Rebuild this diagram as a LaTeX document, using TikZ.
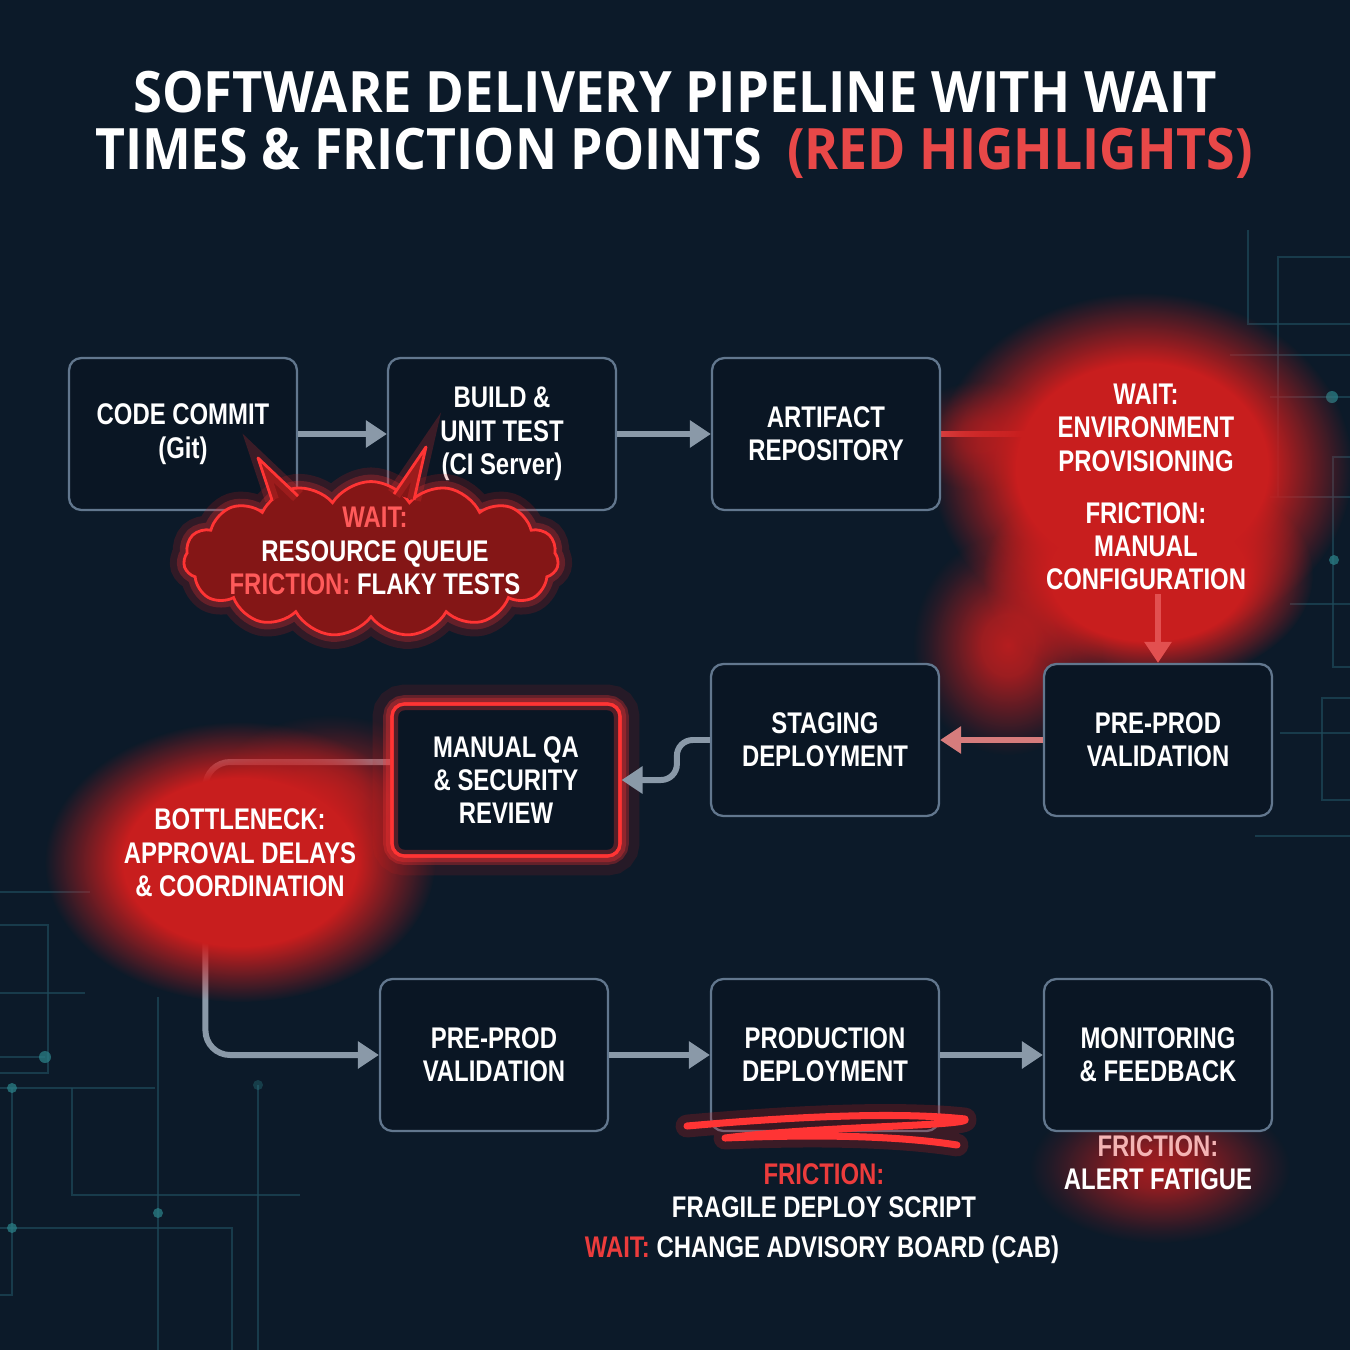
\documentclass[tikz,border=0pt]{standalone}
\usepackage{fontspec}
\setmainfont{Liberation Sans}[FakeStretch=0.8]
\newfontfamily\titlefont{Open Sans}[FakeStretch=0.92]
\usetikzlibrary{positioning,arrows.meta,shapes.symbols,fadings}

\definecolor{bgnavy}{HTML}{0C1A29}
\definecolor{boxfill}{HTML}{0A1624}
\definecolor{boxline}{HTML}{62778E}
\definecolor{flowgray}{HTML}{8A99A8}
\definecolor{hotred}{HTML}{FF3434}
\definecolor{glowred}{HTML}{C81E1E}
\definecolor{labelred}{HTML}{EC3C3C}
\definecolor{titlered}{HTML}{E84848}
\definecolor{cloudred}{HTML}{841616}
\definecolor{cloudtext}{HTML}{FF5A5A}
\definecolor{arrowred}{HTML}{E25050}
\definecolor{pinkarrow}{HTML}{D67C7C}
\definecolor{paletext}{HTML}{F4B4B4}
\definecolor{circuit}{HTML}{1E4A5A}
\definecolor{circuitdot}{HTML}{2A7F86}

% path bbox maps onto the inner 25bp radius
\pgfdeclareradialshading{flatshade}{\pgfpointorigin}{color(0bp)=(white); color(15bp)=(white); color(25bp)=(black); color(50bp)=(black)}
\pgfdeclareradialshading{softshade}{\pgfpointorigin}{color(0bp)=(white); color(7bp)=(white!85!black); color(15bp)=(white!45!black); color(21bp)=(white!15!black); color(25bp)=(black); color(50bp)=(black)}
\pgfdeclarefading{flatglow}{\pgfuseshading{flatshade}}
\pgfdeclarefading{softglow}{\pgfuseshading{softshade}}

\pgfdeclarelayer{back}
\pgfdeclarelayer{under}
\pgfdeclarelayer{haze}
\pgfsetlayers{back,under,haze,main}

\newcommand{\stagefont}{\fontsize{17}{19}\selectfont\bfseries}
\newcommand{\headfont}{\titlefont\fontsize{32.5}{36}\selectfont\bfseries}

\tikzset{
  stage/.style={draw=boxline, line width=1.3pt, rounded corners=7pt, fill=boxfill,
    minimum width=4.56cm, minimum height=3.04cm, align=center, text=white, font=\stagefont},
  hotstage/.style={stage, draw=hotred, line width=1.8pt,
    preaction={draw=glowred, line width=22pt, draw opacity=.14},
    preaction={draw=hotred, line width=10pt, draw opacity=.28},
    postaction={draw=hotred, line width=7pt, draw opacity=.3},
    postaction={draw=hotred, line width=1.8pt}},
  note/.style={align=center, text=white, font=\stagefont, inner sep=2pt},
  headline/.style={text=white, font=\headfont, inner sep=0pt},
  flow/.style={draw=flowgray, line width=3.4pt, -{Triangle[length=12pt,width=15pt]}},
  softflow/.style={flow, draw=pinkarrow},
  redflow/.style={flow, draw=arrowred},
  emberline/.style={draw=arrowred, line width=3.4pt},
  bubble/.style={cloud, cloud puffs=15, cloud puff arc=115, draw=hotred, line width=1.6pt,
    fill=cloudred, minimum width=7.5cm, minimum height=3.1cm, inner sep=0pt,
    preaction={draw=glowred, line width=16pt, draw opacity=.2},
    preaction={draw=hotred, line width=8pt, draw opacity=.25}},
  spike/.style={draw=hotred, line width=1.6pt, line join=round,
    preaction={draw=hotred, line width=8pt, draw opacity=.2}},
  scribble/.style={draw=hotred, line width=4pt, line cap=round, line join=round,
    preaction={draw=glowred, line width=13pt, draw opacity=.25, line cap=round, line join=round}},
  trace/.style={draw=circuit, line width=1pt, draw opacity=.7},
  tracedot/.style={fill=circuitdot, fill opacity=.75},
}

\begin{document}
\begin{tikzpicture}[x=0.02cm, y=-0.02cm]
\useasboundingbox (0,0) rectangle (1350,1350);

\begin{pgfonlayer}{back}
  \fill[bgnavy] (0,0) rectangle (1350,1350);
  % circuit traces, right edge
  \draw[trace] (1248,230) -- (1248,324) -- (1350,324);
  \draw[trace] (1278,497) -- (1278,257) -- (1350,257);
  \draw[trace] (1230,355) -- (1350,355);
  \draw[trace] (1270,397) -- (1350,397);
  \draw[trace] (1350,457) -- (1333,457) -- (1333,667) -- (1350,667);
  \draw[trace] (1270,497) -- (1350,497);
  \draw[trace] (1290,604) -- (1350,604);
  \draw[trace] (1350,698) -- (1322,698) -- (1322,800) -- (1350,800);
  \draw[trace] (1280,733) -- (1350,733);
  \draw[trace] (1255,836) -- (1350,836);
  \fill[tracedot] (1332,397) circle[radius=6];
  \fill[tracedot] (1334,560) circle[radius=5];
  % circuit traces, lower left
  \draw[trace] (0,892) -- (90,892);
  \draw[trace] (0,925) -- (48,925) -- (48,1073) -- (0,1073);
  \draw[trace] (0,993) -- (85,993);
  \draw[trace] (0,1057) -- (45,1057);
  \draw[trace] (0,1088) -- (155,1088);
  \draw[trace] (72,1088) -- (72,1195) -- (300,1195);
  \draw[trace] (12,1088) -- (12,1295) -- (0,1295);
  \draw[trace] (158,997) -- (158,1350);
  \draw[trace] (0,1228) -- (232,1228) -- (232,1350);
  \draw[trace] (258,1085) -- (258,1350);
  \fill[tracedot] (45,1057) circle[radius=6];
  \fill[tracedot] (12,1088) circle[radius=5];
  \fill[tracedot] (158,1213) circle[radius=5];
  \fill[tracedot] (12,1228) circle[radius=5];
  \fill[tracedot, fill opacity=.35] (258,1085) circle[radius=5];
\end{pgfonlayer}

% title
\node[headline] (titleA) at (675,92) {SOFTWARE DELIVERY PIPELINE WITH WAIT};
\node[headline, xscale=0.985] (titleB) at (674,153) {TIMES \& FRICTION POINTS\hspace{0.45em}\textcolor{titlered}{(RED HIGHLIGHTS)}};

% pipeline stages
\node[stage] (commit) at (183,434) {CODE COMMIT\\(Git)};
\node[stage] (build) at (502,434) {BUILD \&\\UNIT TEST\\(CI Server)};
\node[stage] (artifact) at (826,434) {ARTIFACT\\REPOSITORY};
\node[stage] (preprodA) at (1158,740) {PRE-PROD\\VALIDATION};
\node[stage] (staging) at (825,740) {STAGING\\DEPLOYMENT};
\node[hotstage] (review) at (506,780) {MANUAL QA\\\& SECURITY\\REVIEW};
\node[stage] (preprodB) at (494,1055) {PRE-PROD\\VALIDATION};
\node[stage] (prod) at (825,1055) {PRODUCTION\\DEPLOYMENT};
\node[stage] (monitor) at (1158,1055) {MONITORING\\\& FEEDBACK};

% friction notes
\node[note] (envnote) at (1146,487) {WAIT:\\ENVIRONMENT\\PROVISIONING\\[10.5pt]FRICTION:\\MANUAL\\CONFIGURATION};
\node[note] (bottleneck) at (240,853) {BOTTLENECK:\\APPROVAL DELAYS\\\& COORDINATION};
\node[note] (deploynote) at (824,1191) {\textcolor{labelred}{FRICTION:}\\FRAGILE DEPLOY SCRIPT};
\node[note] (cabnote) at (822,1250) {\textcolor{labelred}{WAIT:} CHANGE ADVISORY BOARD (CAB)};
\node[note] (alertnote) at (1158,1163) {\textcolor{paletext}{FRICTION:}\\ALERT FATIGUE};

% callout cloud
\node[bubble] (queue) at (371,559) {};
\fill[cloudred] (272,500) -- (258,458) -- (298,496) -- cycle;
\draw[spike] (272,500) -- (258,458) -- (298,496);
\fill[cloudred] (394,494) -- (426,447) -- (414,500) -- cycle;
\draw[spike] (394,494) -- (426,447) -- (414,500);
\node[note] (queuenote) at (375,551) {\textcolor{cloudtext}{WAIT:}\\RESOURCE QUEUE\\\textcolor{cloudtext}{FRICTION:} FLAKY TESTS};

% hidden under the glow
\begin{pgfonlayer}{under}
  \draw[flow, rounded corners=14pt] ([yshift=0.36cm]review.west) -- ++(-185,0) |- (preprodB.west);
  \draw[emberline] (artifact.east) -- (artifact.east -| envnote.west);
\end{pgfonlayer}

% red glows
\begin{pgfonlayer}{haze}
  \fill[glowred, path fading=flatglow] (1142,468) ellipse (210 and 175);
  \fill[glowred, path fading=flatglow] (1148,575) ellipse (165 and 110);
  \fill[glowred, path fading=softglow, fill opacity=.9] (1008,645) ellipse (95 and 110);
  \fill[glowred, path fading=softglow, fill opacity=.6] (980,436) ellipse (75 and 55);
  \fill[glowred, path fading=flatglow] (240,862) ellipse (195 and 140);
  \fill[glowred, path fading=softglow, fill opacity=.7] (330,790) ellipse (115 and 75);
  \fill[glowred, path fading=softglow, fill opacity=.8] (1160,1168) ellipse (130 and 75);
\end{pgfonlayer}

% connectors
\draw[flow] (commit) -- (build);
\draw[flow] (build) -- (artifact);
\draw[redflow] (envnote.south -| preprodA.north) -- (preprodA.north);
\draw[softflow] (preprodA) -- (staging);
\draw[flow, rounded corners=9pt] (staging.west) -- ++(-33,0) |- (review.east);
\draw[flow] (preprodB) -- (prod);
\draw[flow] (prod) -- (monitor);

% scribble under production
\draw[scribble] (687,1126) .. controls (800,1116) and (900,1112) .. (965,1119)
  .. controls (975,1126) and (820,1126) .. (725,1138)
  .. controls (820,1134) and (900,1136) .. (957,1145);
\end{tikzpicture}
\end{document}
